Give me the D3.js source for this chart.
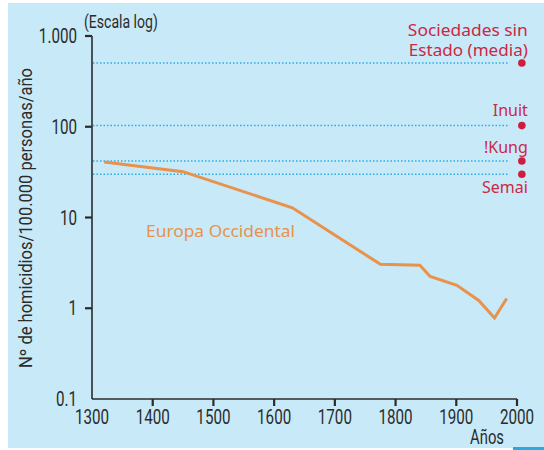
<!DOCTYPE html>
<html>
<head>
<meta charset="utf-8">
<script src="https://cdn.jsdelivr.net/npm/d3@7"></script>
<style>
  body { margin: 0; background: #fff; }
  .narrow { font-family: Roboto, "Liberation Sans", sans-serif; }
  .geo { font-family: "Noto Sans", "Lato", sans-serif; }
</style>
</head>
<body>
<div id="chart"></div>
<script>
// Europa Occidental: homicidios por 100.000 personas/año
var years = [1320, 1450, 1630, 1775, 1840, 1857, 1901, 1937, 1963, 1983];
var rates = [41, 32, 12.8, 3.05, 2.98, 2.24, 1.79, 1.22, 0.78, 1.28];

// sociedades sin Estado (niveles de referencia)
var societies = ["Sociedades sin Estado (media)", "Inuit", "!Kung", "Semai"];
var societyRates = [505, 103, 42, 30];

var xTicks = [1300, 1400, 1500, 1600, 1700, 1800, 1900, 2000];
var yTicks = [0.1, 1, 10, 100, 1000];
var yTickLabels = ["0.1", "1", "10", "100", "1.000"];

var W = 544, H = 450;
var SX = 0.76; // fuente estrecha
var svg = d3.select("#chart").append("svg")
    .attr("width", W)
    .attr("height", H);

// fondo
svg.append("rect")
    .attr("x", 8).attr("y", 3)
    .attr("width", W - 8).attr("height", 445)
    .attr("fill", "#c8e9f8");
svg.append("rect")
    .attr("x", 513).attr("y", 447)
    .attr("width", 31).attr("height", 3)
    .attr("fill", "#29a9e0");

var x = d3.scaleLinear().domain([1300, 2000]).range([92, 517]);
var y = d3.scaleLog().domain([0.1, 1000]).range([399, 36]);

// lineas de referencia punteadas
svg.selectAll("line.ref")
    .data(societyRates)
    .enter()
    .append("line")
    .attr("class", "ref")
    .attr("x1", x(1300) + 1)
    .attr("x2", x(1985))
    .attr("y1", function (d) { return y(d); })
    .attr("y2", function (d) { return y(d); })
    .attr("stroke", "#29abe2")
    .attr("stroke-width", 1.5)
    .attr("stroke-dasharray", "1.5 2");

svg.selectAll("circle")
    .data(societyRates)
    .enter()
    .append("circle")
    .attr("cx", x(2008))
    .attr("cy", function (d) { return y(d); })
    .attr("r", 3.8)
    .attr("fill", "#cc1f3e");

// etiquetas de sociedades
var red = "#cc2744";
var labelX = x(2008) + 6;
var lab = svg.append("g").attr("class", "geo")
    .attr("fill", red)
    .attr("font-size", 16)
    .attr("text-anchor", "end");
lab.append("text").attr("x", labelX).attr("y", 36)
    .attr("textLength", 120).attr("lengthAdjust", "spacingAndGlyphs")
    .text("Sociedades sin");
lab.append("text").attr("x", labelX).attr("y", 56)
    .attr("textLength", 119).attr("lengthAdjust", "spacingAndGlyphs")
    .text("Estado (media)");
lab.append("text").attr("x", labelX).attr("y", 116).text(societies[1]);
lab.append("text").attr("x", labelX).attr("y", 153).text(societies[2]);
lab.append("text").attr("x", labelX).attr("y", 193).text(societies[3]);

// serie Europa
var line = d3.line()
    .x(function (d, i) { return x(years[i]); })
    .y(function (d) { return y(d); });

svg.append("path")
    .datum(rates)
    .attr("d", line)
    .attr("fill", "none")
    .attr("stroke", "#e8924b")
    .attr("stroke-width", 3)
    .attr("stroke-linejoin", "miter");

svg.append("text")
    .attr("class", "geo")
    .attr("x", 146).attr("y", 237)
    .attr("fill", "#e8924b")
    .attr("font-size", 16.5)
    .attr("textLength", 149)
    .attr("lengthAdjust", "spacingAndGlyphs")
    .text("Europa Occidental");

// ejes
var axisColor = "#2b2b2b";
svg.append("line")
    .attr("x1", x(1300)).attr("x2", x(1300))
    .attr("y1", y(1000)).attr("y2", y(0.1))
    .attr("stroke", axisColor).attr("stroke-width", 1.6);
svg.append("line")
    .attr("x1", x(1300)).attr("x2", x(2000))
    .attr("y1", y(0.1)).attr("y2", y(0.1))
    .attr("stroke", axisColor).attr("stroke-width", 1.6);

svg.selectAll("line.ytick")
    .data(yTicks.slice(1))
    .enter()
    .append("line")
    .attr("class", "ytick")
    .attr("x1", x(1300) - 7).attr("x2", x(1300))
    .attr("y1", function (d) { return y(d); })
    .attr("y2", function (d) { return y(d); })
    .attr("stroke", axisColor).attr("stroke-width", 2.2);

svg.selectAll("line.xtick")
    .data(xTicks.slice(1))
    .enter()
    .append("line")
    .attr("class", "xtick")
    .attr("x1", function (d) { return x(d); })
    .attr("x2", function (d) { return x(d); })
    .attr("y1", y(0.1)).attr("y2", y(0.1) + 7)
    .attr("stroke", axisColor).attr("stroke-width", 2.2);

svg.selectAll("text.ylab")
    .data(yTicks)
    .enter()
    .append("text")
    .attr("class", "ylab narrow")
    .attr("transform", function (d) {
        return "translate(77," + (y(d) + 7) + ") scale(" + SX + ",1)";
    })
    .attr("text-anchor", "end")
    .attr("font-size", 20)
    .attr("fill", axisColor)
    .text(function (d, i) { return yTickLabels[i]; });

svg.selectAll("text.xlab")
    .data(xTicks)
    .enter()
    .append("text")
    .attr("class", "xlab narrow")
    .attr("transform", function (d) {
        return "translate(" + x(d) + ",424) scale(" + SX + ",1)";
    })
    .attr("text-anchor", "middle")
    .attr("font-size", 20)
    .attr("fill", axisColor)
    .text(function (d) { return d; });

svg.append("text")
    .attr("class", "narrow")
    .attr("transform", "translate(84,28) scale(" + SX + ",1)")
    .attr("font-size", 18.5)
    .attr("fill", axisColor)
    .text("(Escala log)");

svg.append("text")
    .attr("class", "narrow")
    .attr("transform", "translate(487,444) scale(" + SX + ",1)")
    .attr("text-anchor", "middle")
    .attr("font-size", 19.5)
    .attr("fill", axisColor)
    .text("Años");

svg.append("text")
    .attr("class", "narrow")
    .attr("transform", "translate(32,218) rotate(-90)")
    .attr("text-anchor", "middle")
    .attr("font-size", 17.5)
    .attr("textLength", 300)
    .attr("lengthAdjust", "spacingAndGlyphs")
    .attr("fill", axisColor)
    .text("Nº de homicidios/100.000 personas/año");
</script>
</body>
</html>
